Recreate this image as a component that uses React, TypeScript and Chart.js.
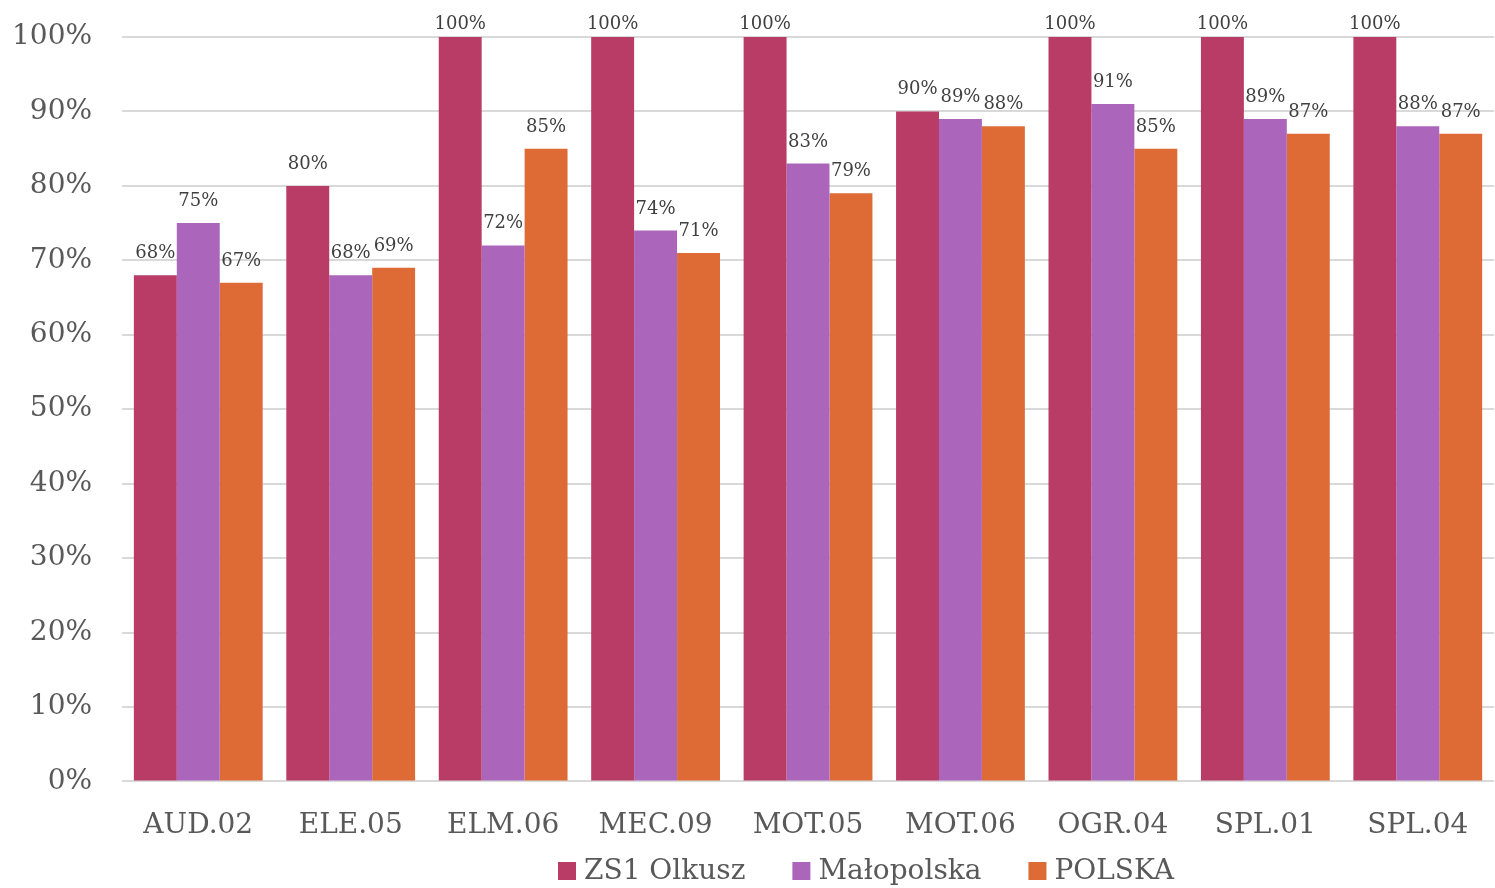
import React, { useEffect, useRef } from "react";
import { Chart, registerables } from "chart.js";

Chart.register(...registerables);

const categories = ["AUD.02", "ELE.05", "ELM.06", "MEC.09", "MOT.05", "MOT.06", "OGR.04", "SPL.01", "SPL.04"];
const zs1Olkusz = [68, 80, 100, 100, 100, 90, 100, 100, 100];
const malopolska = [75, 68, 72, 74, 83, 89, 91, 89, 88];
const polska = [67, 69, 85, 71, 79, 88, 85, 87, 87];
const seriesNames = ["ZS1 Olkusz", "Małopolska", "POLSKA"];
const seriesColors = ["#B93C66", "#AB66BC", "#DE6B35"];

const FONT = "'DejaVu Serif', serif";

const labelPlugin = {
  id: "barLabels",
  afterDatasetsDraw(chart: any) {
    const ctx = chart.ctx;
    ctx.save();
    ctx.font = `18px ${FONT}`;
    ctx.fillStyle = "#404040";
    ctx.textAlign = "center";
    ctx.textBaseline = "alphabetic";
    chart.data.datasets.forEach((ds: any, i: number) => {
      const meta = chart.getDatasetMeta(i);
      meta.data.forEach((bar: any, j: number) => {
        ctx.fillText(`${ds.data[j]}%`, bar.x, Math.max(bar.y - 17, 29));
      });
    });
    ctx.restore();
  },
};

const legendPlugin = {
  id: "customLegend",
  afterDraw(chart: any) {
    const ctx = chart.ctx;
    ctx.save();
    ctx.font = `28px ${FONT}`;
    ctx.textBaseline = "middle";
    ctx.textAlign = "left";
    const boxW = 18, boxH = 18, gap = 8, spacing = 47;
    let x = 558;
    const cy = 871;
    chart.data.datasets.forEach((ds: any) => {
      const w = ctx.measureText(ds.label).width;
      ctx.fillStyle = ds.backgroundColor;
      ctx.fillRect(x, cy - boxH / 2, boxW, boxH);
      ctx.fillStyle = "#595959";
      ctx.fillText(ds.label, x + boxW + gap, cy + 1);
      x += boxW + gap + w + spacing;
    });
    ctx.restore();
  },
};

export default function App() {
  const ref = useRef<HTMLCanvasElement>(null);
  useEffect(() => {
    if (!ref.current) return;
    const chart = new Chart(ref.current, {
      type: "bar",
      data: {
        labels: categories,
        datasets: [
          { label: seriesNames[0], data: zs1Olkusz, backgroundColor: seriesColors[0] },
          { label: seriesNames[1], data: malopolska, backgroundColor: seriesColors[1] },
          { label: seriesNames[2], data: polska, backgroundColor: seriesColors[2] },
        ],
      },
      options: {
        responsive: false,
        animation: false,
        devicePixelRatio: 1,
        layout: { padding: { top: 37, left: -18, right: 1, bottom: 25 } },
        datasets: {
          bar: { categoryPercentage: 0.845, barPercentage: 1.0, borderWidth: 0 },
        },
        plugins: {
          tooltip: { enabled: false },
          legend: { display: false },
        },
        scales: {
          x: {
            grid: { display: false },
            border: { display: false },
            ticks: { color: "#595959", font: { family: FONT, size: 28 }, padding: 20 },
          },
          y: {
            min: 0,
            max: 100,
            grid: { color: "#d9d9d9", lineWidth: 2, drawTicks: false },
            border: { display: false },
            ticks: {
              stepSize: 10,
              color: "#595959",
              font: { family: FONT, size: 28, lineHeight: 0.2 },
              padding: 30,
              callback: (v: any) => `${v}%`,
            },
          },
        },
      },
      plugins: [labelPlugin, legendPlugin],
    });
    return () => chart.destroy();
  }, []);
  return (
    <div style={{ position: "fixed", left: 0, top: 0, width: 1495, height: 888, background: "#fff" }}>
      <canvas ref={ref} width={1495} height={888} />
    </div>
  );
}
